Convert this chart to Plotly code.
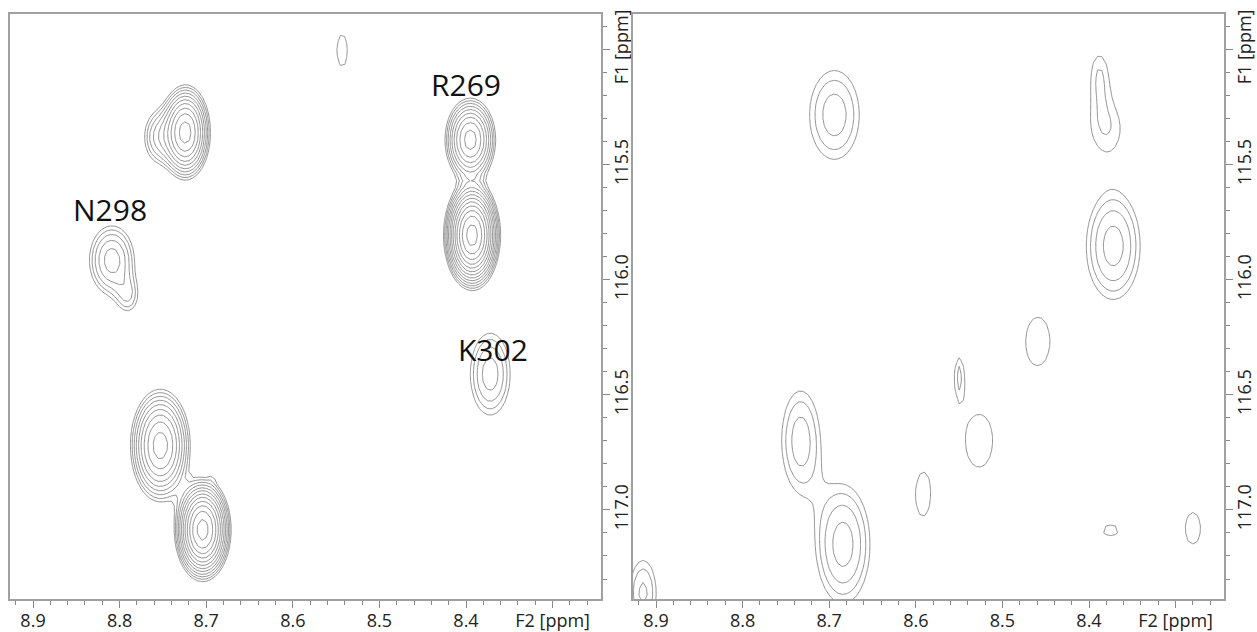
import numpy as np
import plotly.graph_objects as go

# ---------------- data (ppm) ----------------
# Axis tick labels
x_tick_vals = [8.9, 8.8, 8.7, 8.6, 8.5, 8.4, 8.3]
x_tick_text = ["8.9", "8.8", "8.7", "8.6", "8.5", "8.4", "F2 [ppm]"]
y_tick_vals = [115.0, 115.5, 116.0, 116.5, 117.0]
y_tick_text = ["F1 [ppm]", "115.5", "116.0", "116.5", "117.0"]

# Left spectrum: cross-peak centres (F2, F1), line widths and heights
# (heights in units of the lowest contour level)
left_f2  = [8.724, 8.756, 8.809, 8.790, 8.395, 8.393, 8.372, 8.753, 8.704, 8.704, 8.692, 8.543]
left_f1  = [115.36, 115.38, 115.915, 116.073, 115.392, 115.806, 116.41, 116.72, 117.086, 116.66, 116.84, 115.004]
left_wx  = [0.013, 0.012, 0.0168, 0.010, 0.0139, 0.0129, 0.0168, 0.0164, 0.0134, 0.003, 0.004, 0.0106]
left_wy  = [0.093, 0.080, 0.097, 0.060, 0.086, 0.094, 0.130, 0.116, 0.092, 0.015, 0.030, 0.115]
left_amp = [12.1, 2.2, 3.3, 1.5, 9.3, 26.6, 2.56, 9.3, 20.3, 1.05, 0.5, 1.2]

# Right spectrum
right_f2  = [8.694, 8.388, 8.380, 8.372, 8.459, 8.550, 8.527, 8.592, 8.733, 8.684, 8.915, 8.375, 8.280, 8.381]
right_f1  = [115.284, 115.10, 115.34, 115.853, 116.267, 116.41, 116.70, 116.935, 116.698, 117.15, 117.36, 117.09, 117.08, 114.80]
right_wx  = [0.0247, 0.012, 0.022, 0.023, 0.023, 0.006, 0.026, 0.0135, 0.0188, 0.023, 0.014, 0.015, 0.015, 0.008]
right_wy  = [0.166, 0.11, 0.12, 0.172, 0.173, 0.09, 0.19, 0.15, 0.185, 0.19, 0.13, 0.043, 0.115, 0.06]
right_amp = [1.97, 1.2, 1.25, 2.5, 1.2, 1.2, 1.2, 1.2, 1.97, 2.5, 1.8, 1.2, 1.2, 1.2]

labels      = ["N298", "R269", "K302"]
label_f2    = [8.811, 8.400, 8.369]
label_f1    = [115.694, 115.151, 116.302]

LEVEL_FACTOR = 1.3

# ---------------- field ----------------
gx = np.arange(8.20, 8.96, 0.005)
gy = np.arange(114.70, 117.50, 0.03)
GX, GY = np.meshgrid(gx, gy)


def spectrum(f2, f1, wx, wy, amp):
    z = np.full(GX.shape, 1e-6)
    for a, b, sx, sy, h in zip(f2, f1, wx, wy, amp):
        z += h * np.exp(-0.5 * ((GX - a) / sx) ** 2 - 0.5 * ((GY - b) / sy) ** 2)
    return np.log(z)


zl = spectrum(left_f2, left_f1, left_wx, left_wy, left_amp)
zr = spectrum(right_f2, right_f1, right_wx, right_wy, right_amp)

line_col = "#737373"
cscale = [[0, line_col], [1, line_col]]
step = np.log(LEVEL_FACTOR)
cont = dict(coloring="lines", start=0.0, end=step * 20, size=step, showlabels=False)

fig = go.Figure()
fig.add_trace(go.Contour(x=gx, y=gy, z=zl, contours=cont, colorscale=cscale, showscale=False,
                         line=dict(width=0.8, smoothing=0), xaxis="x", yaxis="y", hoverinfo="skip"))
fig.add_trace(go.Contour(x=gx, y=gy, z=zr, contours=cont, colorscale=cscale, showscale=False,
                         line=dict(width=0.8, smoothing=0), xaxis="x2", yaxis="y2", hoverinfo="skip"))

W, H = 1257, 632
tick_font = dict(family="Open Sans", size=18, color="#222")
frame = "#a0a0a0"


def xaxis(dom, anchor):
    return dict(domain=dom, anchor=anchor, range=[8.9266, 8.2441], tickmode="array",
                tickvals=x_tick_vals, ticktext=x_tick_text, ticks="outside", ticklen=7,
                tickcolor="#888", tickwidth=1, showline=True, linecolor=frame, linewidth=1.5,
                mirror=True, showgrid=False, zeroline=False, tickfont=tick_font,
                ticklabelstandoff=-3,
                minor=dict(tickmode="linear", tick0=8.0, dtick=0.02, ticks="outside",
                           ticklen=4, tickcolor="#888", showgrid=False))


def yaxis(anchor):
    return dict(domain=[1 - 600 / H, 1 - 10 / H], anchor=anchor, side="right",
                range=[117.388, 114.845], tickmode="array", tickvals=y_tick_vals,
                ticktext=y_tick_text, tickangle=-90, ticks="outside", ticklen=7,
                tickcolor="#888", tickwidth=1, showline=True, linecolor=frame, linewidth=1.5,
                mirror=True, showgrid=False, zeroline=False, tickfont=tick_font,
                ticklabelstandoff=-3,
                minor=dict(tickmode="linear", tick0=115.0, dtick=0.1, ticks="outside",
                           ticklen=4, tickcolor="#888", showgrid=False))


fig.update_layout(
    width=W, height=H, margin=dict(l=0, r=0, t=0, b=0),
    paper_bgcolor="white", plot_bgcolor="white", showlegend=False,
    xaxis=xaxis([10 / W, 601 / W], "y"),
    yaxis=yaxis("x"),
    xaxis2=xaxis([633 / W, 1224 / W], "y2"),
    yaxis2=yaxis("x2"),
)

for t, a, b in zip(labels, label_f2, label_f1):
    fig.add_annotation(x=a, y=b, xref="x", yref="y", text=t, showarrow=False,
                       font=dict(family="Open Sans", size=30, color="#111"))

fig.write_html("out.html")
